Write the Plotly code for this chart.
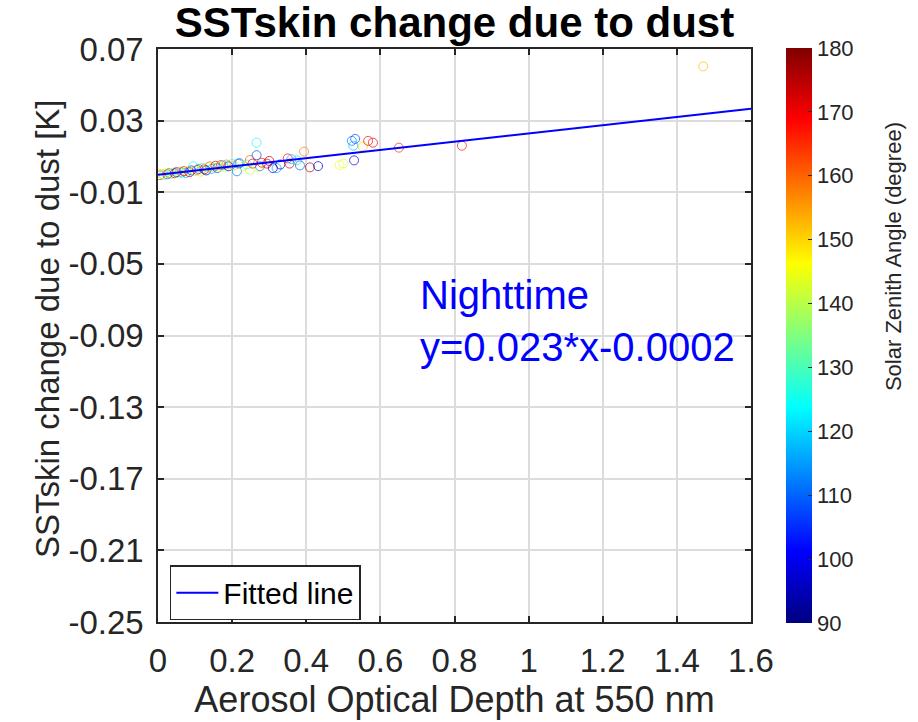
import plotly.graph_objects as go

# ---- data ----
aod = [0.005, 0.010, 0.015, 0.020, 0.025, 0.030, 0.035, 0.040, 0.045, 0.050,
       0.055, 0.060, 0.065, 0.070, 0.075, 0.080, 0.085, 0.090, 0.095, 0.100,
       0.105, 0.110, 0.115, 0.120, 0.125, 0.130, 0.135, 0.140, 0.145, 0.150,
       0.155, 0.160, 0.165, 0.170, 0.175, 0.180, 0.185, 0.190, 0.200, 0.205,
       0.213, 0.216, 0.220, 0.230, 0.240, 0.248, 0.248, 0.255, 0.266, 0.266,
       0.270, 0.275, 0.280, 0.294, 0.300, 0.310, 0.320, 0.330, 0.350, 0.355,
       0.360, 0.375, 0.383, 0.394, 0.410, 0.432, 0.490, 0.500, 0.523, 0.532,
       0.527, 0.529, 0.553, 0.567, 0.580, 0.650, 0.820, 1.471]
dsst = [-0.0005, 0.0002, -0.0003, 0.0005, 0.0000, 0.0008, 0.0003, 0.0010, 0.0006, 0.0012,
        0.0005, 0.0015, 0.0010, 0.0018, 0.0008, 0.0020, 0.0012, 0.0022, 0.0045, 0.0018,
        0.0025, 0.0030, 0.0015, 0.0035, 0.0028, 0.0022, 0.0040, 0.0045, 0.0030, 0.0038,
        0.0048, 0.0035, 0.0042, 0.0052, 0.0050, 0.0038, 0.0055, 0.0045, 0.0058, 0.0048,
        0.0017, 0.0060, 0.0062, 0.0045, 0.0055, 0.0080, 0.0025, 0.0060, 0.0177, 0.0107,
        0.0040, 0.0045, 0.0065, 0.0060, 0.0075, 0.0035, 0.0035, 0.0055, 0.0089, 0.0060,
        0.0085, 0.0078, 0.0050, 0.0127, 0.0039, 0.0046, 0.0052, 0.0061, 0.0187, 0.0198,
        0.0160, 0.0078, 0.0155, 0.0187, 0.0177, 0.0149, 0.0160, 0.0603]
sza = [165, 150, 130, 145, 110, 160, 125, 140, 170, 100,
       135, 155, 120, 168, 115, 145, 175, 105, 125, 138,
       165, 112, 150, 128, 172, 95, 142, 160, 118, 132,
       170, 108, 148, 165, 120, 140, 158, 98, 130, 150,
       112, 115, 108, 145, 128, 160, 140, 170, 125, 108,
       145, 112, 168, 172, 175, 100, 115, 95, 168, 172,
       118, 122, 110, 158, 175, 97, 145, 142, 112, 108,
       118, 100, 150, 168, 170, 165, 167, 152]

fit_slope = 0.023
fit_intercept = -0.0002
fit_x = [0.0, 1.6]
fit_y = [fit_slope * v + fit_intercept for v in fit_x]

x_ticks = [0, 0.2, 0.4, 0.6, 0.8, 1, 1.2, 1.4, 1.6]
x_ticktext = ["0", "0.2", "0.4", "0.6", "0.8", "1", "1.2", "1.4", "1.6"]
y_ticks = [0.07, 0.03, -0.01, -0.05, -0.09, -0.13, -0.17, -0.21, -0.25]
y_ticktext = ["0.07", "0.03", "-0.01", "-0.05", "-0.09", "-0.13", "-0.17", "-0.21", "-0.25"]
cb_ticks = [90, 100, 110, 120, 130, 140, 150, 160, 170, 180]

jet = [[0.0, "rgb(0,0,128)"], [0.125, "rgb(0,0,255)"], [0.375, "rgb(0,255,255)"],
       [0.625, "rgb(255,255,0)"], [0.875, "rgb(255,0,0)"], [1.0, "rgb(128,0,0)"]]

FONT = "Liberation Sans, Arial, sans-serif"
AX = "#262626"

fig = go.Figure()
fig.add_trace(go.Scatter(
    x=aod, y=dsst, mode="markers", showlegend=False,
    marker=dict(symbol="circle-open", size=9, color=sza, colorscale=jet,
                cmin=90, cmax=180, opacity=0.7, line=dict(width=1),
                colorbar=dict(
                    x=1.059, xanchor="left", xref="paper", xpad=0, ypad=0,
                    y=0.5, yanchor="middle", len=1.004, lenmode="fraction",
                    thickness=26, outlinewidth=0,
                    tickvals=cb_ticks, ticks="inside", ticklen=4, tickcolor=AX,
                    tickfont=dict(family=FONT, size=22, color=AX),
                )),
))
fig.add_trace(go.Scatter(
    x=fit_x, y=fit_y, mode="lines", name="Fitted line",
    line=dict(color="rgb(0,0,255)", width=2),
))

fig.add_annotation(
    x=0.7015, y=-0.082, xref="x", yref="y", xanchor="left", yanchor="middle",
    text="Nighttime<br>y=0.023*x-0.0002", showarrow=False, align="left",
    font=dict(family=FONT, size=40, color="rgb(0,0,255)"),
)
# y-axis title
fig.add_annotation(
    x=(47 - 158) / 593, y=(630 - 333) / 581, xref="paper", yref="paper",
    xanchor="center", yanchor="middle", textangle=-90, showarrow=False,
    text="SSTskin change due to dust [K]",
    font=dict(family=FONT, size=33, color=AX),
)
# colorbar title
fig.add_annotation(
    x=(893 - 158) / 593, y=(630 - 260) / 581, xref="paper", yref="paper",
    xanchor="center", yanchor="middle", textangle=-90, showarrow=False,
    text="Solar Zenith Angle (degree)",
    font=dict(family=FONT, size=22, color=AX),
)

fig.update_layout(
    width=918, height=722,
    margin=dict(l=158, r=167, t=49, b=92),
    paper_bgcolor="white", plot_bgcolor="white",
    title=dict(text="<b>SSTskin change due to dust</b>", x=0.5, xref="paper",
               xanchor="center", y=1 - 22 / 722, yref="container", yanchor="middle",
               font=dict(family=FONT, size=42, color="black")),
    legend=dict(x=0.02, y=0.003, xanchor="left", yanchor="bottom",
                bgcolor="white", bordercolor=AX, borderwidth=1.5, itemwidth=42,
                font=dict(family=FONT, size=30, color="black")),
    xaxis=dict(range=[0, 1.6], tickvals=x_ticks, ticktext=x_ticktext,
               showline=True, linecolor=AX, linewidth=1.5, mirror="ticks",
               ticks="inside", ticklen=6, tickcolor=AX, tickwidth=1.5,
               showgrid=True, gridcolor="#dcdcdc", gridwidth=1.5, zeroline=False,
               tickfont=dict(family=FONT, size=33, color=AX), ticklabelstandoff=9,
               title=dict(text="Aerosol Optical Depth at 550 nm", standoff=5,
                          font=dict(family=FONT, size=36, color=AX))),
    yaxis=dict(range=[-0.25, 0.07], tickvals=y_ticks, ticktext=y_ticktext,
               showline=True, linecolor=AX, linewidth=1.5, mirror="ticks",
               ticks="inside", ticklen=6, tickcolor=AX, tickwidth=1.5,
               showgrid=True, gridcolor="#dcdcdc", gridwidth=1.5, zeroline=False,
               tickfont=dict(family=FONT, size=33, color=AX), ticklabelstandoff=6),
)

fig.write_html("out.html")
